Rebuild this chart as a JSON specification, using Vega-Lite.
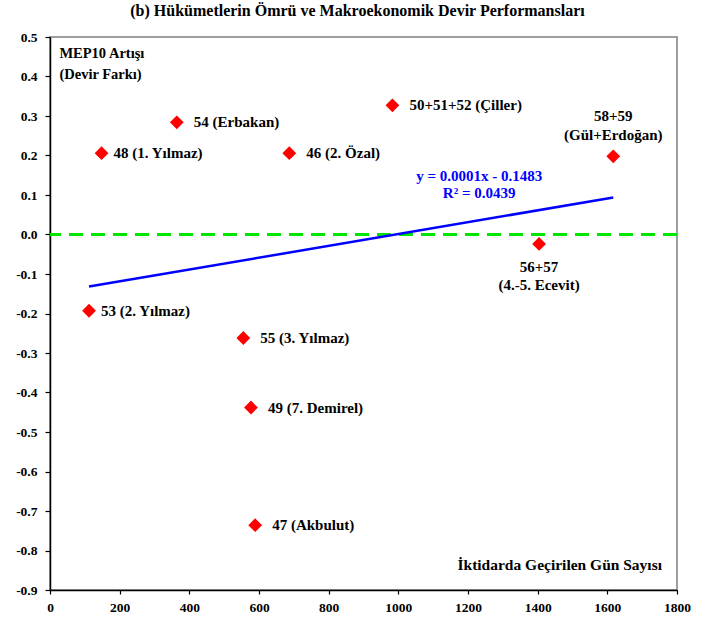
{
  "$schema": "https://vega.github.io/schema/vega-lite/v6.json",
  "width": 627,
  "height": 553,
  "autosize": {"type": "none"},
  "padding": {"left": 50, "top": 37, "right": 44, "bottom": 41},
  "background": "white",
  "title": {
    "text": "(b) Hükümetlerin Ömrü ve Makroekonomik Devir Performansları",
    "font": "Liberation Serif",
    "fontSize": 16,
    "fontWeight": "bold",
    "color": "black",
    "anchor": "middle",
    "offset": 11,
    "dx": -6
  },
  "config": {
    "view": {"stroke": "#808080", "strokeWidth": 1.5},
    "font": "Liberation Serif",
    "axis": {
      "grid": false,
      "domainColor": "black",
      "domainWidth": 1.5,
      "tickColor": "black",
      "tickWidth": 1.2,
      "labelFont": "Liberation Serif",
      "labelFontWeight": "bold",
      "labelFontSize": 13.5,
      "labelColor": "black",
      "title": null
    }
  },
  "datasets": {
    "govs": [
      {"name": "48 (1. Yılmaz)", "days": 148, "mep": 0.206},
      {"name": "54 (Erbakan)", "days": 364, "mep": 0.284},
      {"name": "46 (2. Özal)", "days": 687, "mep": 0.206},
      {"name": "50+51+52 (Çiller)", "days": 983, "mep": 0.327},
      {"name": "58+59\n(Gül+Erdoğan)", "days": 1617, "mep": 0.198},
      {"name": "56+57\n(4.-5. Ecevit)", "days": 1404, "mep": -0.024},
      {"name": "53 (2. Yılmaz)", "days": 112, "mep": -0.193},
      {"name": "55 (3. Yılmaz)", "days": 555, "mep": -0.262},
      {"name": "49 (7. Demirel)", "days": 577, "mep": -0.438},
      {"name": "47 (Akbulut)", "days": 589, "mep": -0.736}
    ],
    "notes": [
      {"text": "MEP10 Artışı", "days": 27, "mep": 0.458, "kind": "ylab"},
      {"text": "(Devir Farkı)", "days": 27, "mep": 0.403, "kind": "ylab"},
      {"text": "İktidarda Geçirilen Gün Sayısı", "days": 1757, "mep": -0.837, "kind": "xlab"},
      {"text": "y = 0.0001x - 0.1483", "days": 1232, "mep": 0.149, "kind": "eq"},
      {"text": "R² = 0.0439", "days": 1232, "mep": 0.105, "kind": "eq"}
    ]
  },
  "layer": [
    {
      "data": {"values": [{}]},
      "mark": {"type": "rule", "color": "#00e600", "strokeWidth": 3, "strokeDash": [14, 8]},
      "encoding": {
        "y": {"datum": 0, "type": "quantitative", "scale": {"domain": [-0.9, 0.5], "nice": false, "zero": false},
          "axis": {"values": [-0.9, -0.8, -0.7, -0.6, -0.5, -0.4, -0.3, -0.2, -0.1, 0, 0.1, 0.2, 0.3, 0.4, 0.5], "labelFontSize": 13.5, "tickSize": 5, "labelPadding": 8, "labelOverlap": false, "labelExpr": "replace(format(datum.value, '.1f'), '−', '-')"}}
      }
    },
    {
      "data": {"name": "govs"},
      "transform": [{"regression": "mep", "on": "days"}],
      "mark": {"type": "line", "color": "#0000ff", "strokeWidth": 2.5},
      "encoding": {
        "x": {"field": "days", "type": "quantitative", "scale": {"domain": [0, 1800], "nice": false, "zero": false},
          "axis": {"values": [0, 200, 400, 600, 800, 1000, 1200, 1400, 1600, 1800], "format": "d", "labelFontSize": 13.5, "tickSize": 4, "labelPadding": 6, "labelFlush": false, "labelOverlap": false}},
        "y": {"field": "mep", "type": "quantitative", "scale": {"domain": [-0.9, 0.5], "nice": false, "zero": false},
          "axis": {"values": [-0.9, -0.8, -0.7, -0.6, -0.5, -0.4, -0.3, -0.2, -0.1, 0, 0.1, 0.2, 0.3, 0.4, 0.5], "labelFontSize": 13.5, "tickSize": 5, "labelPadding": 8, "labelOverlap": false, "labelExpr": "replace(format(datum.value, '.1f'), '−', '-')"}}
      }
    },
    {
      "data": {"name": "govs"},
      "mark": {"type": "point", "shape": "diamond", "filled": true, "color": "#ff0000", "size": 190, "opacity": 1},
      "encoding": {
        "x": {"field": "days", "type": "quantitative", "scale": {"domain": [0, 1800], "nice": false, "zero": false},
          "axis": {"values": [0, 200, 400, 600, 800, 1000, 1200, 1400, 1600, 1800], "format": "d", "labelFontSize": 13.5, "tickSize": 4, "labelPadding": 6, "labelFlush": false, "labelOverlap": false}},
        "y": {"field": "mep", "type": "quantitative", "scale": {"domain": [-0.9, 0.5], "nice": false, "zero": false},
          "axis": {"values": [-0.9, -0.8, -0.7, -0.6, -0.5, -0.4, -0.3, -0.2, -0.1, 0, 0.1, 0.2, 0.3, 0.4, 0.5], "labelFontSize": 13.5, "tickSize": 5, "labelPadding": 8, "labelOverlap": false, "labelExpr": "replace(format(datum.value, '.1f'), '−', '-')"}}
      }
    },
    {
      "data": {"name": "govs"},
      "transform": [{"filter": "indexof(['54 (Erbakan)','46 (2. Özal)','50+51+52 (Çiller)','55 (3. Yılmaz)','49 (7. Demirel)','47 (Akbulut)'], datum.name) >= 0"}],
      "mark": {"type": "text", "align": "left", "baseline": "middle", "dx": 17, "fontSize": 15, "fontWeight": "bold", "font": "Liberation Serif", "color": "black"},
      "encoding": {
        "x": {"field": "days", "type": "quantitative", "scale": {"domain": [0, 1800], "nice": false, "zero": false},
          "axis": {"values": [0, 200, 400, 600, 800, 1000, 1200, 1400, 1600, 1800], "format": "d", "labelFontSize": 13.5, "tickSize": 4, "labelPadding": 6, "labelFlush": false, "labelOverlap": false}},
        "y": {"field": "mep", "type": "quantitative", "scale": {"domain": [-0.9, 0.5], "nice": false, "zero": false},
          "axis": {"values": [-0.9, -0.8, -0.7, -0.6, -0.5, -0.4, -0.3, -0.2, -0.1, 0, 0.1, 0.2, 0.3, 0.4, 0.5], "labelFontSize": 13.5, "tickSize": 5, "labelPadding": 8, "labelOverlap": false, "labelExpr": "replace(format(datum.value, '.1f'), '−', '-')"}},
        "text": {"field": "name"}
      }
    },
    {
      "data": {"name": "govs"},
      "transform": [{"filter": "indexof(['48 (1. Yılmaz)','53 (2. Yılmaz)'], datum.name) >= 0"}],
      "mark": {"type": "text", "align": "left", "baseline": "middle", "dx": 12, "fontSize": 15, "fontWeight": "bold", "font": "Liberation Serif", "color": "black"},
      "encoding": {
        "x": {"field": "days", "type": "quantitative", "scale": {"domain": [0, 1800], "nice": false, "zero": false},
          "axis": {"values": [0, 200, 400, 600, 800, 1000, 1200, 1400, 1600, 1800], "format": "d", "labelFontSize": 13.5, "tickSize": 4, "labelPadding": 6, "labelFlush": false, "labelOverlap": false}},
        "y": {"field": "mep", "type": "quantitative", "scale": {"domain": [-0.9, 0.5], "nice": false, "zero": false},
          "axis": {"values": [-0.9, -0.8, -0.7, -0.6, -0.5, -0.4, -0.3, -0.2, -0.1, 0, 0.1, 0.2, 0.3, 0.4, 0.5], "labelFontSize": 13.5, "tickSize": 5, "labelPadding": 8, "labelOverlap": false, "labelExpr": "replace(format(datum.value, '.1f'), '−', '-')"}},
        "text": {"field": "name"}
      }
    },
    {
      "data": {"name": "govs"},
      "transform": [{"filter": "indexof(datum.name, 'Gül') >= 0"}],
      "mark": {"type": "text", "align": "center", "baseline": "top", "dy": -47, "lineBreak": "\n", "lineHeight": 18.5, "fontSize": 15, "fontWeight": "bold", "font": "Liberation Serif", "color": "black"},
      "encoding": {
        "x": {"field": "days", "type": "quantitative", "scale": {"domain": [0, 1800], "nice": false, "zero": false},
          "axis": {"values": [0, 200, 400, 600, 800, 1000, 1200, 1400, 1600, 1800], "format": "d", "labelFontSize": 13.5, "tickSize": 4, "labelPadding": 6, "labelFlush": false, "labelOverlap": false}},
        "y": {"field": "mep", "type": "quantitative", "scale": {"domain": [-0.9, 0.5], "nice": false, "zero": false},
          "axis": {"values": [-0.9, -0.8, -0.7, -0.6, -0.5, -0.4, -0.3, -0.2, -0.1, 0, 0.1, 0.2, 0.3, 0.4, 0.5], "labelFontSize": 13.5, "tickSize": 5, "labelPadding": 8, "labelOverlap": false, "labelExpr": "replace(format(datum.value, '.1f'), '−', '-')"}},
        "text": {"field": "name"}
      }
    },
    {
      "data": {"name": "govs"},
      "transform": [{"filter": "indexof(datum.name, 'Ecevit') >= 0"}],
      "mark": {"type": "text", "align": "center", "baseline": "top", "dy": 16, "lineBreak": "\n", "lineHeight": 18.5, "fontSize": 15, "fontWeight": "bold", "font": "Liberation Serif", "color": "black"},
      "encoding": {
        "x": {"field": "days", "type": "quantitative", "scale": {"domain": [0, 1800], "nice": false, "zero": false},
          "axis": {"values": [0, 200, 400, 600, 800, 1000, 1200, 1400, 1600, 1800], "format": "d", "labelFontSize": 13.5, "tickSize": 4, "labelPadding": 6, "labelFlush": false, "labelOverlap": false}},
        "y": {"field": "mep", "type": "quantitative", "scale": {"domain": [-0.9, 0.5], "nice": false, "zero": false},
          "axis": {"values": [-0.9, -0.8, -0.7, -0.6, -0.5, -0.4, -0.3, -0.2, -0.1, 0, 0.1, 0.2, 0.3, 0.4, 0.5], "labelFontSize": 13.5, "tickSize": 5, "labelPadding": 8, "labelOverlap": false, "labelExpr": "replace(format(datum.value, '.1f'), '−', '-')"}},
        "text": {"field": "name"}
      }
    },
    {
      "data": {"name": "notes"},
      "transform": [{"filter": "datum.kind === 'ylab'"}],
      "mark": {"type": "text", "align": "left", "baseline": "middle", "fontSize": 14.5, "fontWeight": "bold", "font": "Liberation Serif", "color": "black"},
      "encoding": {
        "x": {"field": "days", "type": "quantitative", "scale": {"domain": [0, 1800], "nice": false, "zero": false},
          "axis": {"values": [0, 200, 400, 600, 800, 1000, 1200, 1400, 1600, 1800], "format": "d", "labelFontSize": 13.5, "tickSize": 4, "labelPadding": 6, "labelFlush": false, "labelOverlap": false}},
        "y": {"field": "mep", "type": "quantitative", "scale": {"domain": [-0.9, 0.5], "nice": false, "zero": false},
          "axis": {"values": [-0.9, -0.8, -0.7, -0.6, -0.5, -0.4, -0.3, -0.2, -0.1, 0, 0.1, 0.2, 0.3, 0.4, 0.5], "labelFontSize": 13.5, "tickSize": 5, "labelPadding": 8, "labelOverlap": false, "labelExpr": "replace(format(datum.value, '.1f'), '−', '-')"}},
        "text": {"field": "text"}
      }
    },
    {
      "data": {"name": "notes"},
      "transform": [{"filter": "datum.kind === 'xlab'"}],
      "mark": {"type": "text", "align": "right", "baseline": "middle", "fontSize": 15.5, "fontWeight": "bold", "font": "Liberation Serif", "color": "black"},
      "encoding": {
        "x": {"field": "days", "type": "quantitative", "scale": {"domain": [0, 1800], "nice": false, "zero": false},
          "axis": {"values": [0, 200, 400, 600, 800, 1000, 1200, 1400, 1600, 1800], "format": "d", "labelFontSize": 13.5, "tickSize": 4, "labelPadding": 6, "labelFlush": false, "labelOverlap": false}},
        "y": {"field": "mep", "type": "quantitative", "scale": {"domain": [-0.9, 0.5], "nice": false, "zero": false},
          "axis": {"values": [-0.9, -0.8, -0.7, -0.6, -0.5, -0.4, -0.3, -0.2, -0.1, 0, 0.1, 0.2, 0.3, 0.4, 0.5], "labelFontSize": 13.5, "tickSize": 5, "labelPadding": 8, "labelOverlap": false, "labelExpr": "replace(format(datum.value, '.1f'), '−', '-')"}},
        "text": {"field": "text"}
      }
    },
    {
      "data": {"name": "notes"},
      "transform": [{"filter": "datum.kind === 'eq'"}],
      "mark": {"type": "text", "align": "center", "baseline": "middle", "fontSize": 15, "fontWeight": "bold", "font": "Liberation Serif", "color": "#0000ff"},
      "encoding": {
        "x": {"field": "days", "type": "quantitative", "scale": {"domain": [0, 1800], "nice": false, "zero": false},
          "axis": {"values": [0, 200, 400, 600, 800, 1000, 1200, 1400, 1600, 1800], "format": "d", "labelFontSize": 13.5, "tickSize": 4, "labelPadding": 6, "labelFlush": false, "labelOverlap": false}},
        "y": {"field": "mep", "type": "quantitative", "scale": {"domain": [-0.9, 0.5], "nice": false, "zero": false},
          "axis": {"values": [-0.9, -0.8, -0.7, -0.6, -0.5, -0.4, -0.3, -0.2, -0.1, 0, 0.1, 0.2, 0.3, 0.4, 0.5], "labelFontSize": 13.5, "tickSize": 5, "labelPadding": 8, "labelOverlap": false, "labelExpr": "replace(format(datum.value, '.1f'), '−', '-')"}},
        "text": {"field": "text"}
      }
    }
  ]
}
